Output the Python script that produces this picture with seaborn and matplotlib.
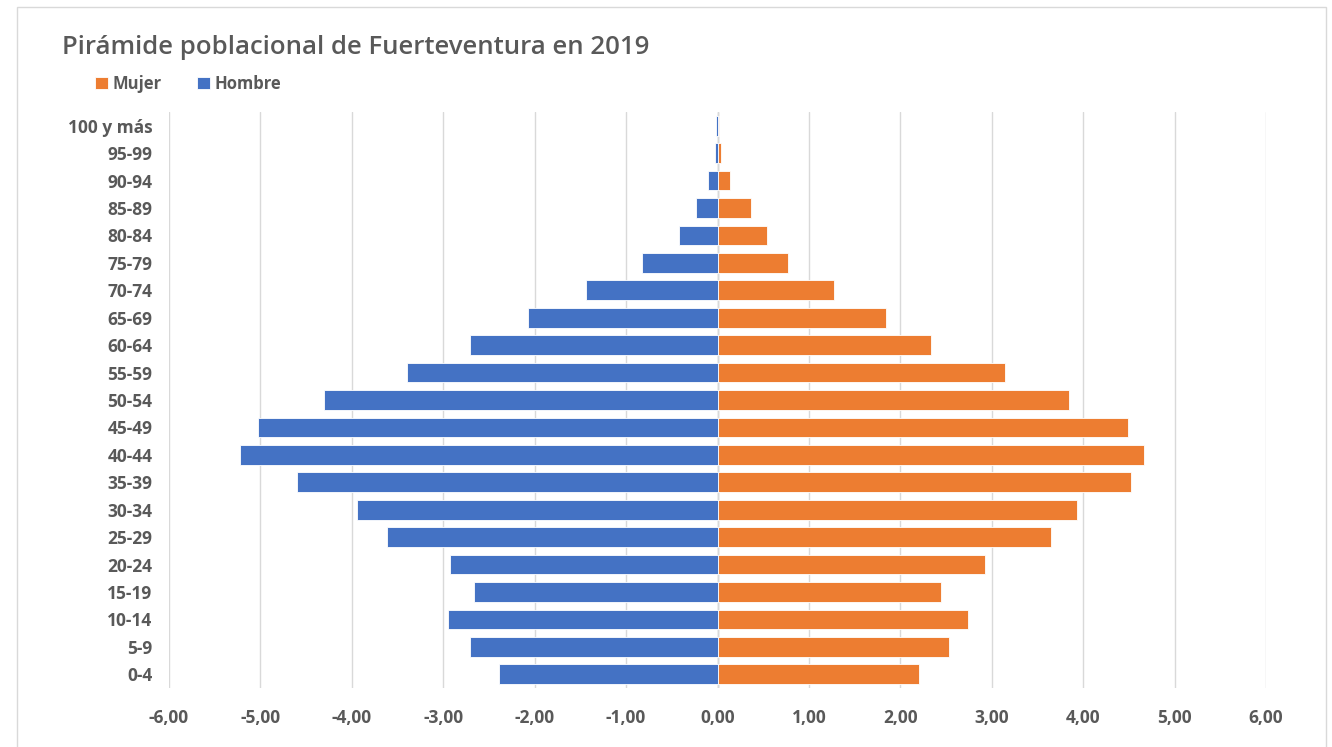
import matplotlib
matplotlib.use("Agg")
import matplotlib.pyplot as plt
import seaborn as sns
import pandas as pd
from matplotlib.patches import Rectangle
from matplotlib.ticker import FuncFormatter, MultipleLocator

categories = ["100 y más", "95-99", "90-94", "85-89", "80-84", "75-79", "70-74",
              "65-69", "60-64", "55-59", "50-54", "45-49", "40-44", "35-39",
              "30-34", "25-29", "20-24", "15-19", "10-14", "5-9", "0-4"]
hombre = [-0.02, -0.03, -0.10, -0.24, -0.42, -0.83, -1.44, -2.07, -2.71, -3.40,
          -4.30, -5.03, -5.22, -4.60, -3.94, -3.62, -2.93, -2.66, -2.95, -2.71, -2.39]
mujer = [0.02, 0.04, 0.14, 0.37, 0.54, 0.77, 1.27, 1.84, 2.33, 3.15,
         3.84, 4.49, 4.67, 4.52, 3.93, 3.65, 2.93, 2.44, 2.74, 2.53, 2.20]
series_names = ["Mujer", "Hombre"]
colors = {"Mujer": "#ED7D31", "Hombre": "#4472C4"}
title = "Pirámide poblacional de Fuerteventura en 2019"

df = pd.concat([
    pd.DataFrame({"edad": categories, "valor": mujer, "sexo": "Mujer"}),
    pd.DataFrame({"edad": categories, "valor": hombre, "sexo": "Hombre"}),
])

sns.set_theme(style="white")
plt.rcParams['font.family'] = ['Open Sans', 'DejaVu Sans']

fig = plt.figure(figsize=(13.32, 7.47), dpi=100)
ax = fig.add_axes([169/1332, 1-688/747, (1266-169)/1332, (688-112)/747])

sns.barplot(data=df, y="edad", x="valor", hue="sexo", hue_order=series_names,
            order=categories, palette=colors, saturation=1, dodge=False, width=0.72,
            orient="h", ax=ax, edgecolor="white", linewidth=0.6, legend=True)

ax.set_xlim(-6, 6)
ax.set_ylim(len(categories) - 0.5, -0.5)
ax.xaxis.set_major_locator(MultipleLocator(1))
ax.xaxis.set_major_formatter(FuncFormatter(lambda v, p: f"{v:.2f}".replace(".", ",")))
ax.grid(axis="x", color="#D9D9D9", linewidth=1)
ax.set_axisbelow(True)
ax.axvline(0, color="#BFBFBF", linewidth=1, zorder=0.5)
for s in ax.spines.values():
    s.set_visible(False)
ax.set_xlabel("")
ax.set_ylabel("")
ax.tick_params(axis="both", length=0, colors="#595959")
ax.tick_params(axis="x", pad=15)
ax.tick_params(axis="y", pad=12)
for lab in ax.get_xticklabels() + ax.get_yticklabels():
    lab.set_fontweight("bold")
    lab.set_fontsize(12.5)
    lab.set_color("#595959")

handles, labels = ax.get_legend_handles_labels()
ax.get_legend().remove()
fig.legend(handles, labels, loc="upper left", bbox_to_anchor=(80/1332, 1-60/747),
           ncol=2, frameon=False, handlelength=0.75, handleheight=0.75,
           handletextpad=0.3, columnspacing=2.15,
           prop={"weight": "bold", "size": 12}, labelcolor="#595959")

fig.text(62/1332, 1-48/747, title, fontsize=18.5, fontweight="semibold",
         color="#595959", ha="left", va="center")

fig.patches.append(Rectangle((17/1332, -0.01), (1326-17)/1332, 1.01-7/747,
                             transform=fig.transFigure, fill=False,
                             edgecolor="#D9D9D9", linewidth=1))

fig.savefig("out.png", dpi=100)
